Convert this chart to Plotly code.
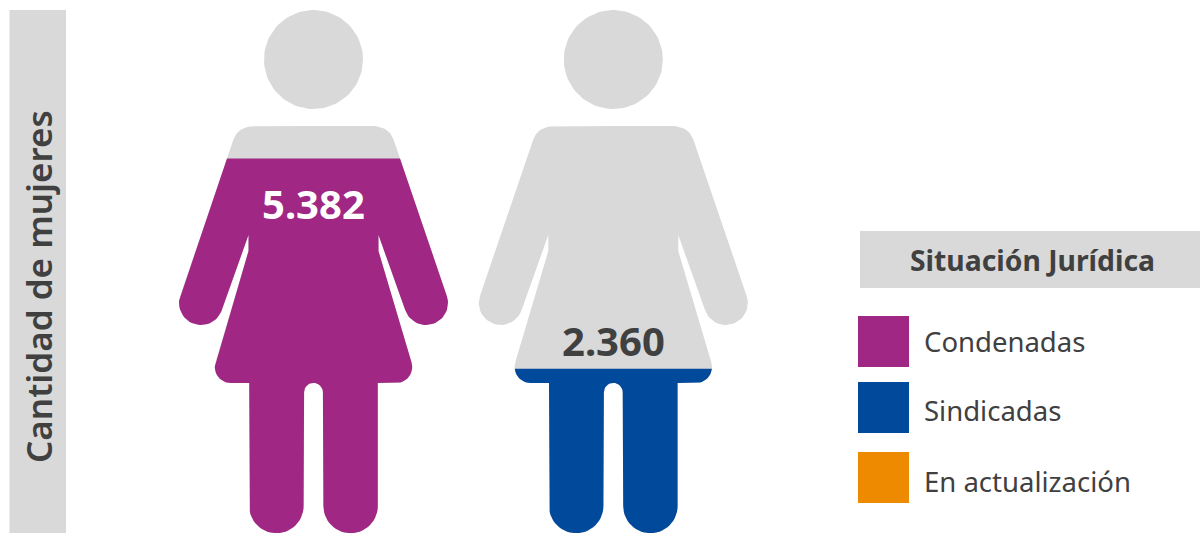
import math
import plotly.graph_objects as go

# ---- data ----
situaciones = ["Condenadas", "Sindicadas", "En actualización"]
colores = ["#A02884", "#00499B", "#EE8A00"]
valores = [5382, 2360]
etiquetas = ["5.382", "2.360"]
colores_valor = ["#FFFFFF", "#404040"]
color_figura = ["#A02884", "#00499B"]
titulo_eje = "Cantidad de mujeres"
titulo_leyenda = "Situación Jurídica"

# ---- layout constants ----
W, H = 1200, 533
Y_MAX = 7660            # value at the top edge of the plot
CENTROS = [313.5, 613.3]
GRIS = "#D9D9D9"
TEXTO = "#404040"
FONT = "Noto Sans"


def y_val(py):
    return (H - py) / H * Y_MAX


def arc(cx, cy, r, a0, a1, n=28):
    return [(cx + r * math.cos(math.radians(a0 + (a1 - a0) * i / n)),
             cy + r * math.sin(math.radians(a0 + (a1 - a0) * i / n))) for i in range(n + 1)]


def quad(p0, c, p1, n=12):
    out = []
    for i in range(n + 1):
        t = i / n
        out.append(((1 - t) ** 2 * p0[0] + 2 * t * (1 - t) * c[0] + t ** 2 * p1[0],
                    (1 - t) ** 2 * p0[1] + 2 * t * (1 - t) * c[1] + t ** 2 * p1[1]))
    return out


def half_outline():
    """Left half of the pictogram glyph, offsets from centre line, image-style y."""
    p = [(0, 126)]
    p += quad((-58.5, 126), (-75.3, 126), (-80.2, 140))
    p += arc(-112.5, 303, 22, 199.5, 18, 30)
    p += [(-65, 235), (-65, 251)]
    p += arc(-82.7, 367, 16, 197, 90, 14)
    p += [(-64.3, 383), (-64.3, 506)]
    p += arc(-37.1, 506, 27.2, 180, 0, 28)
    p += [(-9.4, 392.3)]
    p += arc(0, 392.3, 9.4, 180, 270, 8)
    return p


def silueta(cx):
    h = half_outline()
    izq = [(cx + x, y) for x, y in h]
    der = [(cx - x, y) for x, y in reversed(h)]
    return izq + der


def cabeza(cx):
    return arc(cx, 59.5, 49.5, 0, 360, 90)


def recortar(poly, py_nivel):
    """Keep the part of a polygon at or below the level line (image y >= level)."""
    out = []
    n = len(poly)
    for i in range(n):
        a, b = poly[i], poly[(i + 1) % n]
        ina, inb = a[1] >= py_nivel, b[1] >= py_nivel
        if ina:
            out.append(a)
        if ina != inb:
            t = (py_nivel - a[1]) / (b[1] - a[1])
            out.append((a[0] + t * (b[0] - a[0]), py_nivel))
    return out


def traza(poly, color):
    return go.Scatter(x=[p[0] for p in poly], y=[y_val(p[1]) for p in poly],
                      mode="lines", fill="toself", fillcolor=color,
                      line=dict(width=0, color=color), hoverinfo="skip", showlegend=False)


fig = go.Figure()
for cx, val, col in zip(CENTROS, valores, color_figura):
    fig.add_trace(traza(cabeza(cx), GRIS))
    cuerpo = silueta(cx)
    fig.add_trace(traza(cuerpo, GRIS))
    nivel_px = H - val / Y_MAX * H
    fig.add_trace(traza(recortar(cuerpo, nivel_px), col))

shapes = [
    dict(type="rect", xref="x", yref="y", x0=9.5, x1=66, y0=y_val(533), y1=y_val(10),
         fillcolor=GRIS, line_width=0, layer="below"),
    dict(type="rect", xref="x", yref="y", x0=860, x1=1200, y0=y_val(288), y1=y_val(231),
         fillcolor=GRIS, line_width=0, layer="below"),
]
filas = [(316, 367), (382, 433), (452, 503)]
for (y0, y1), c in zip(filas, colores):
    shapes.append(dict(type="rect", xref="x", yref="y", x0=858, x1=909,
                       y0=y_val(y1), y1=y_val(y0), fillcolor=c, line_width=0))

ann = [
    dict(x=38, y=y_val(287), text=titulo_eje, textangle=-90, showarrow=False,
         font=dict(family=FONT, size=35, color=TEXTO, weight=600)),
    dict(x=1032.5, y=y_val(259.5), text=titulo_leyenda, showarrow=False,
         font=dict(family=FONT, size=28.3, color=TEXTO, weight=700)),
]
for nombre, py in zip(situaciones, [341.5, 410.5, 481.5]):
    ann.append(dict(x=922, y=y_val(py), text=nombre, showarrow=False, xanchor="left",
                    font=dict(family=FONT, size=27.5, color=TEXTO)))
for cx, py, txt, c in zip(CENTROS, [203.5, 340], etiquetas, colores_valor):
    ann.append(dict(x=cx, y=y_val(py), text=txt, showarrow=False,
                    font=dict(family=FONT, size=40, color=c, weight=700)))

fig.update_layout(
    width=W, height=H, autosize=False,
    margin=dict(l=0, r=0, t=0, b=0),
    paper_bgcolor="white", plot_bgcolor="white",
    showlegend=False, shapes=shapes, annotations=ann,
    xaxis=dict(range=[0, W], visible=False, fixedrange=True),
    yaxis=dict(range=[0, Y_MAX], visible=False, fixedrange=True),
)
fig.write_html("out.html", config={"displayModeBar": False},
               post_script="document.body.style.margin='0';document.documentElement.style.overflow='hidden';")
